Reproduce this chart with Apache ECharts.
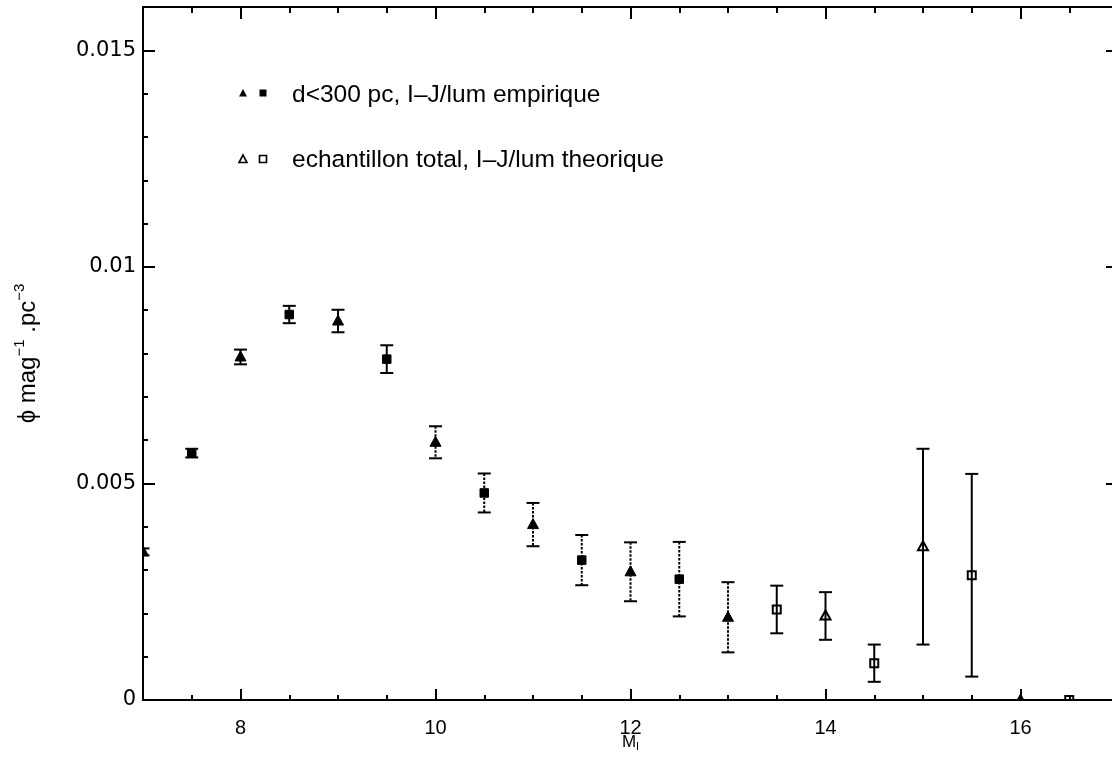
<!DOCTYPE html>
<html>
<head>
<meta charset="utf-8">
<script src="https://cdn.jsdelivr.net/npm/echarts@6/dist/echarts.min.js"></script>
<style>
html,body{margin:0;padding:0;background:#fff;}
#chart{width:1112px;height:764px;}
</style>
</head>
<body>
<div id="chart"></div>
<script>
// ---- data ----
// filled triangles : d<300 pc, I-J/lum empirique
const filledTriX   = [7, 8, 9, 10, 11, 12, 13, 16];
const filledTriY   = [0.00342, 0.00792, 0.00875, 0.00595, 0.00405, 0.00296, 0.00191, 0.0];
const filledTriErr = [0.00008, 0.00017, 0.00026, 0.00037, 0.00050, 0.00068, 0.00081, 0.0];
// filled squares : d<300 pc, I-J/lum empirique
const filledSqX   = [7.5, 8.5, 9.5, 10.5, 11.5, 12.5];
const filledSqY   = [0.00570, 0.00890, 0.00787, 0.00478, 0.00323, 0.00279];
const filledSqErr = [0.00010, 0.00020, 0.00032, 0.00045, 0.00058, 0.00086];
// open triangles : echantillon total, I-J/lum theorique
const openTriX   = [14, 15];
const openTriY   = [0.00194, 0.00354];
const openTriErr = [0.00055, 0.00226];
// open squares : echantillon total, I-J/lum theorique
const openSqX   = [13.5, 14.5, 15.5, 16.5];
const openSqY   = [0.00209, 0.00085, 0.00288, 0.0];
const openSqErr = [0.00055, 0.00043, 0.00234, 0.0];

// axis ticks / labels
const xMajorTicks = [8, 10, 12, 14, 16];
const xMinorTicks = [7.5, 8.5, 9, 9.5, 10.5, 11, 11.5, 12.5, 13, 13.5, 14.5, 15, 15.5, 16.5];
const yMajorTicks = [0, 0.005, 0.01, 0.015];
const yMinorTicks = [0.001, 0.002, 0.003, 0.004, 0.006, 0.007, 0.008, 0.009, 0.011, 0.012, 0.013, 0.014];
const legendLabels = ['d<300 pc, I\u2013J/lum empirique', 'echantillon total, I\u2013J/lum theorique'];

// ---- chart ----
const X_MIN = 7, X_MAX = 17, Y_MIN = 0, Y_MAX = 0.016;
const black = '#000';

function zip(xs, ys, es) { return xs.map((x, i) => [x, ys[i], es[i]]); }

function makeRender(shape, filled) {
  return function (params, api) {
    const x = api.value(0), y = api.value(1), e = api.value(2);
    const p = api.coord([x, y]);
    const children = [];
    if (e > 0) {
      const t = api.coord([x, y + e]);
      const b = api.coord([x, y - e]);
      const dotted = filled && x >= 10 && x <= 13;
      children.push({type: 'line', shape: {x1: p[0], y1: t[1], x2: p[0], y2: b[1]},
        style: {stroke: black, lineWidth: 2, lineDash: dotted ? [2.5, 1.5] : null}});
      children.push({type: 'line', shape: {x1: p[0] - 6.5, y1: t[1], x2: p[0] + 6.5, y2: t[1]},
        style: {stroke: black, lineWidth: 2}});
      children.push({type: 'line', shape: {x1: p[0] - 6.5, y1: b[1], x2: p[0] + 6.5, y2: b[1]},
        style: {stroke: black, lineWidth: 2}});
    }
    const st = filled ? {fill: black, stroke: black, lineWidth: 1}
                      : {fill: 'none', stroke: black, lineWidth: 2};
    if (shape === 'tri') {
      const h = filled ? 10 : 9, w = filled ? 11 : 10;
      children.push({type: 'polygon', shape: {points: [
        [p[0], p[1] - h * 0.6], [p[0] - w / 2, p[1] + h * 0.4], [p[0] + w / 2, p[1] + h * 0.4]]}, style: st});
    } else {
      const s = filled ? 8.5 : 8;
      children.push({type: 'rect', shape: {x: p[0] - s / 2, y: p[1] - s / 2, width: s, height: s}, style: st});
    }
    return {type: 'group', children: children};
  };
}

function xAxisDef(pos, ticks, len, showLine, showLabel) {
  return {
    type: 'value', min: X_MIN, max: X_MAX, position: pos,
    axisLine: {show: showLine, onZero: false, lineStyle: {color: black, width: 2}},
    axisTick: {show: true, inside: true, length: len, customValues: ticks, lineStyle: {color: black, width: 2}},
    axisLabel: showLabel ? {show: true, customValues: ticks, color: black, fontFamily: 'Liberation Sans', fontSize: 20, margin: 18}
                         : {show: false},
    splitLine: {show: false}
  };
}
function yAxisDef(pos, ticks, len, showLine, showLabel) {
  return {
    type: 'value', min: Y_MIN, max: Y_MAX, position: pos,
    axisLine: {show: showLine, onZero: false, lineStyle: {color: black, width: 2}},
    axisTick: {show: true, inside: true, length: len, customValues: ticks, lineStyle: {color: black, width: 2}},
    axisLabel: showLabel ? {show: true, customValues: ticks, color: black, fontFamily: 'DejaVu Sans', fontSize: 21, margin: 7}
                         : {show: false},
    splitLine: {show: false}
  };
}

const xAxes = [
  xAxisDef('bottom', xMajorTicks, 11, true, true),
  xAxisDef('bottom', xMinorTicks, 5, false, false),
  xAxisDef('top', xMajorTicks, 12, true, false),
  xAxisDef('top', xMinorTicks, 6, false, false)
];
xAxes[0].name = '{m|M}{s|I}';
xAxes[0].nameLocation = 'middle';
xAxes[0].nameGap = 34;
xAxes[0].nameMoveOverlap = false;
xAxes[0].nameTextStyle = {color: black, fontFamily: 'Liberation Sans', rich: {
  m: {fontSize: 17, lineHeight: 18, verticalAlign: 'top', color: black, fontFamily: 'Liberation Sans'},
  s: {fontSize: 11, lineHeight: 18, verticalAlign: 'bottom', color: black, fontFamily: 'Liberation Sans'}
}};

const yAxes = [
  yAxisDef('left', yMajorTicks, 12, true, true),
  yAxisDef('left', yMinorTicks, 5, false, false),
  yAxisDef('right', yMajorTicks, 12, true, false),
  yAxisDef('right', yMinorTicks, 5, false, false)
];
yAxes[0].name = '{a|\u03d5 mag}{s|\u22121}{a| .pc}{s|\u22123}';
yAxes[0].nameLocation = 'middle';
yAxes[0].nameRotate = 90;
yAxes[0].nameGap = 103;
yAxes[0].nameMoveOverlap = false;
yAxes[0].nameTextStyle = {color: black, fontFamily: 'Liberation Sans', rich: {
  a: {fontSize: 24, lineHeight: 28, verticalAlign: 'bottom', color: black, fontFamily: 'Liberation Sans'},
  s: {fontSize: 15, lineHeight: 15, verticalAlign: 'top', color: black, fontFamily: 'Liberation Sans'}
}};

function mkSeries(name, data, shape, filled) {
  return {name: name, type: 'custom', xAxisIndex: 0, yAxisIndex: 0, clip: true,
    renderItem: makeRender(shape, filled), data: data, silent: true, animation: false};
}

const legendFont = {fontFamily: 'Liberation Sans', fontSize: 24.5, fill: black};

const option = {
  backgroundColor: '#fff',
  animation: false,
  grid: {left: 143, top: 7, width: 975, height: 693, containLabel: false, outerBoundsMode: 'none'},
  xAxis: xAxes,
  yAxis: yAxes,
  series: [
    mkSeries('filledTri', zip(filledTriX, filledTriY, filledTriErr), 'tri', true),
    mkSeries('filledSq', zip(filledSqX, filledSqY, filledSqErr), 'sq', true),
    mkSeries('openTri', zip(openTriX, openTriY, openTriErr), 'tri', false),
    mkSeries('openSq', zip(openSqX, openSqY, openSqErr), 'sq', false)
  ],
  graphic: [
    {type: 'polygon', shape: {points: [[243, 89], [239, 96.5], [247, 96.5]]}, style: {fill: black}},
    {type: 'rect', shape: {x: 259.5, y: 89.5, width: 7, height: 7}, style: {fill: black}},
    {type: 'text', x: 292, y: 95, style: Object.assign({text: legendLabels[0], verticalAlign: 'middle', align: 'left'}, legendFont)},
    {type: 'polygon', shape: {points: [[243, 155], [239, 162.5], [247, 162.5]]}, style: {fill: 'none', stroke: black, lineWidth: 1.6}},
    {type: 'rect', shape: {x: 259.5, y: 155.5, width: 7, height: 7}, style: {fill: 'none', stroke: black, lineWidth: 1.6}},
    {type: 'text', x: 292, y: 160, style: Object.assign({text: legendLabels[1], verticalAlign: 'middle', align: 'left'}, legendFont)}
  ]
};

const chart = echarts.init(document.getElementById('chart'), null, {renderer: 'canvas'});
chart.setOption(option);
</script>
</body>
</html>
